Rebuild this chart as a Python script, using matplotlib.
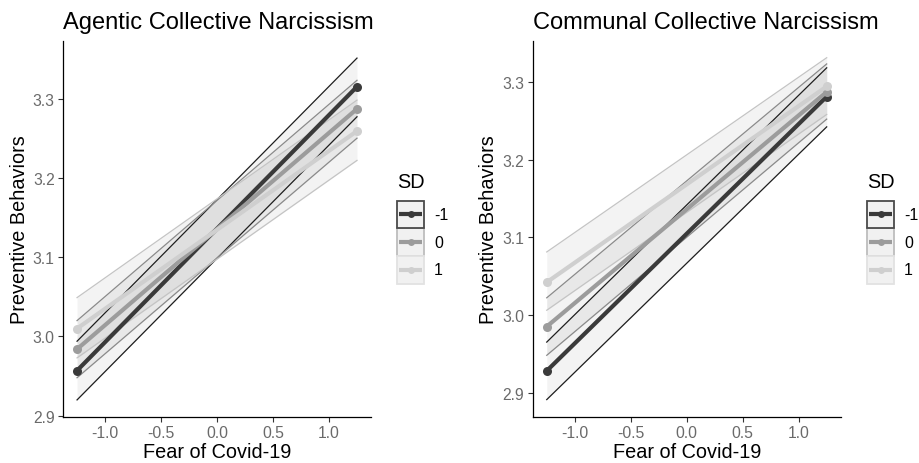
import matplotlib
matplotlib.use("Agg")
import matplotlib.pyplot as plt
from matplotlib.patches import Rectangle
import numpy as np

plt.rcParams["font.family"] = ["Liberation Sans", "DejaVu Sans"]

# Fitted simple slopes at the ends of the observed range of fear of Covid-19
fear_x = [-1.25, 1.25]
sd_levels = ["-1", "0", "1"]
sd_colors = ["#3a3a3a", "#9c9c9c", "#cfcfcf"]
edge_colors = ["#1e1e1e", "#8a8a8a", "#c4c4c4"]
key_borders = ["#4a4a4a", "#bdbdbd", "#e2e2e2"]

agentic_mean = [[2.957, 3.315], [2.984, 3.287], [3.010, 3.259]]
agentic_lower = [[2.920, 3.277], [2.948, 3.250], [2.973, 3.222]]
agentic_upper = [[2.994, 3.351], [3.020, 3.323], [3.049, 3.298]]

communal_mean = [[2.928, 3.281], [2.985, 3.287], [3.042, 3.294]]
communal_lower = [[2.891, 3.242], [2.948, 3.252], [3.006, 3.258]]
communal_upper = [[2.965, 3.318], [3.022, 3.323], [3.081, 3.331]]

titles = ["Agentic Collective Narcissism", "Communal Collective Narcissism"]
x_label = "Fear of Covid-19"
y_label = "Preventive Behaviors"
x_ticks = [-1.0, -0.5, 0.0, 0.5, 1.0]
y_ticks = [2.9, 3.0, 3.1, 3.2, 3.3]

W, H = 919, 464
fig = plt.figure(figsize=(W / 100, H / 100), dpi=100)
ax_left = fig.add_axes([0.0686, 0.0991, 0.3351, 0.8104])
ax_right = fig.add_axes([0.5797, 0.0998, 0.3351, 0.8105])

# legend key column left edge in pixels, per panel
panels = [
    (ax_left, agentic_mean, agentic_lower, agentic_upper, 397),
    (ax_right, communal_mean, communal_lower, communal_upper, 867),
]

for i, (ax, mean, lower, upper, leg_px) in enumerate(panels):
    x = np.array(fear_x)
    # confidence bands
    for k in range(len(sd_levels)):
        ax.fill_between(x, lower[k], upper[k], color="#a0a0a0", alpha=0.12,
                        linewidth=0)
        ax.plot(x, lower[k], color=edge_colors[k], lw=0.9)
        ax.plot(x, upper[k], color=edge_colors[k], lw=0.9)
    # fitted lines with end points
    for k in range(len(sd_levels)):
        ax.plot(x, mean[k], color=sd_colors[k], lw=3.0, solid_capstyle="butt",
                marker="o", markersize=6.5, markeredgewidth=0)

    ax.margins(x=0.05, y=0.05)
    ax.set_xticks(x_ticks)
    ax.set_yticks(y_ticks)
    ax.set_xticklabels([f"{t:.1f}" for t in x_ticks])
    ax.set_yticklabels([f"{t:.1f}" for t in y_ticks])
    ax.tick_params(colors="#333333", labelcolor="#6a6a6a", labelsize=11.3,
                   length=3.5, width=0.8, pad=2.5)
    for side in ("top", "right"):
        ax.spines[side].set_visible(False)
    for side in ("left", "bottom"):
        ax.spines[side].set_color("black")
        ax.spines[side].set_linewidth(0.9)
    ax.set_xlabel(x_label, fontsize=14.3, labelpad=1.5)
    ax.set_ylabel(y_label, fontsize=14.3, labelpad=3)
    ax.set_title(titles[i], fontsize=17, loc="left", pad=9)

    # legend, ggplot style: stacked square keys with band fill and border
    key_w, key_h, key_top = 27, 27.7, 201.5
    lax = fig.add_axes([leg_px / W, 1 - (key_top + 3 * key_h) / H,
                        key_w / W, 3 * key_h / H])
    lax.set_xlim(0, 1)
    lax.set_ylim(0, 3)
    lax.axis("off")
    for k in range(len(sd_levels)):
        row = 2 - k
        lax.add_patch(Rectangle((0, row), 1, 1, facecolor="#f1f1f1",
                                edgecolor=key_borders[k], linewidth=1.3,
                                clip_on=False, zorder=1 + (k == 0)))
        lax.plot([0.08, 0.92], [row + 0.5] * 2, color=sd_colors[k], lw=3.0,
                 solid_capstyle="butt", zorder=3)
        lax.plot([0.5], [row + 0.5], "o", color=sd_colors[k], markersize=5,
                 markeredgewidth=0, zorder=4)
        fig.text((leg_px + key_w + 10) / W,
                 1 - (key_top + (k + 0.5) * key_h) / H, sd_levels[k],
                 fontsize=11.5, ha="left", va="center", color="black")
    fig.text(leg_px / W, 1 - 183 / H, "SD", fontsize=14.3, ha="left",
             va="center", color="black")

fig.savefig("out.png", dpi=100)
